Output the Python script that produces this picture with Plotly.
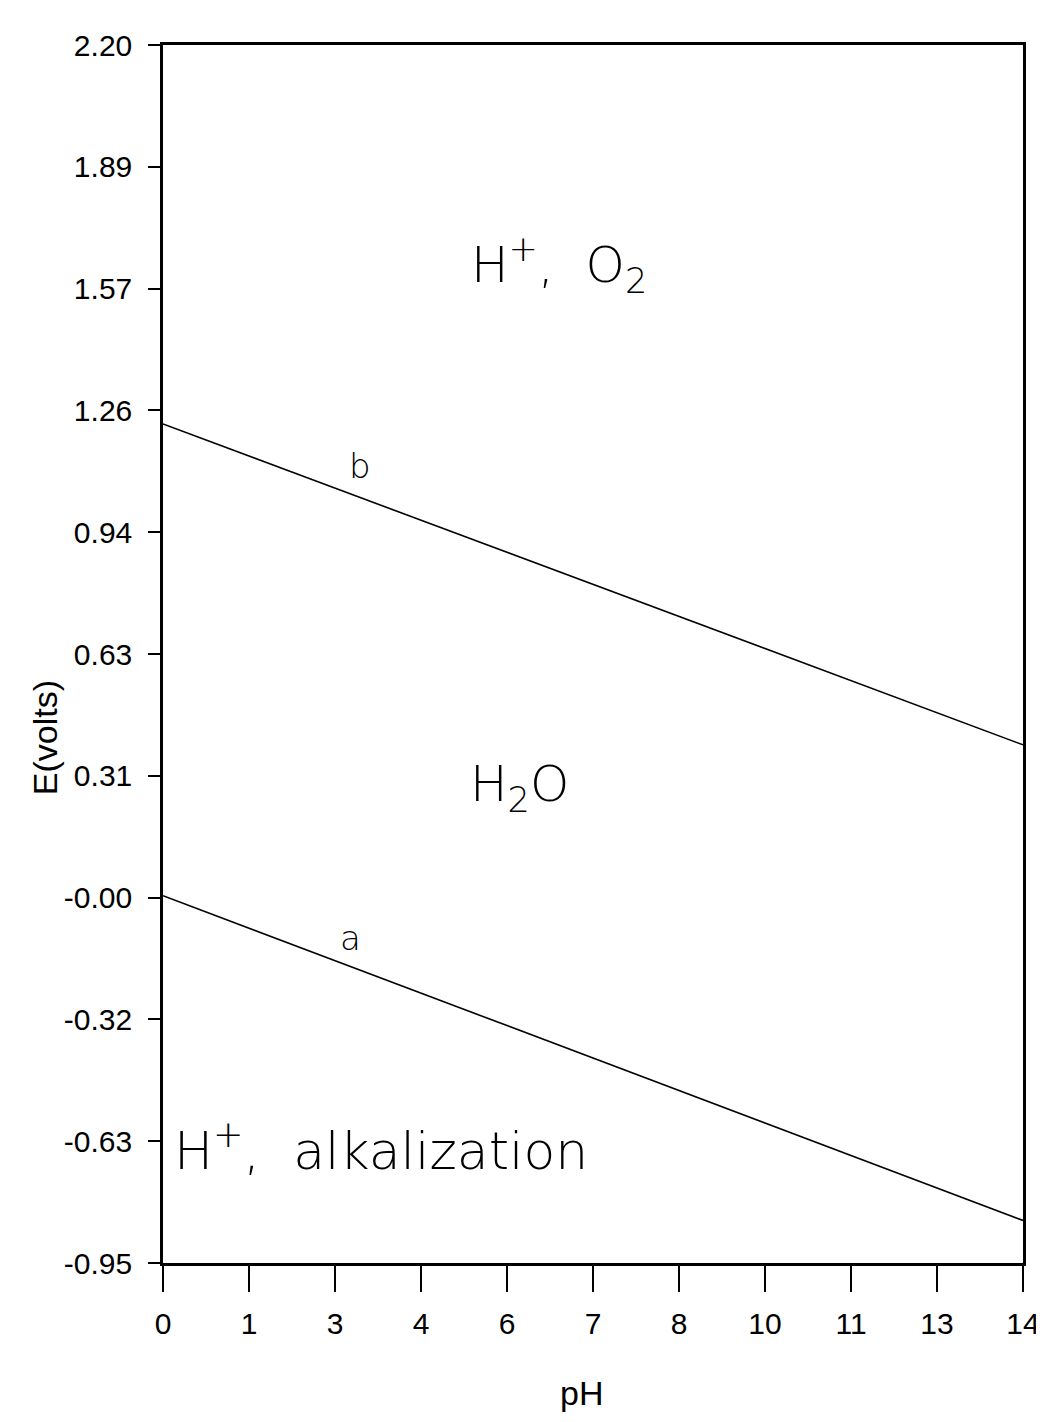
import plotly.graph_objects as go

# Data
ph = [0, 14]
line_a = [0.0, -0.84]
line_b = [1.22, 0.39]
x_tick_vals = [0, 1.4, 2.8, 4.2, 5.6, 7.0, 8.4, 9.8, 11.2, 12.6, 14.0]
x_tick_text = ["0", "1", "3", "4", "6", "7", "8", "10", "11", "13", "14"]
y_tick_vals = [-0.95, -0.635, -0.32, -0.005, 0.31, 0.625, 0.94, 1.255, 1.57, 1.885, 2.20]
y_tick_text = ["-0.95", "-0.63", "-0.32", "-0.00", "0.31", "0.63", "0.94", "1.26", "1.57", "1.89", "2.20"]

NARROW = "Liberation Sans Narrow, Liberation Sans, Arial, sans-serif"
WIDE = "DejaVu Sans, Verdana, sans-serif"

fig = go.Figure()
fig.add_trace(go.Scatter(x=ph, y=line_a, mode="lines", line=dict(color="black", width=1.6), showlegend=False))
fig.add_trace(go.Scatter(x=ph, y=line_b, mode="lines", line=dict(color="black", width=1.6), showlegend=False))

ann = [
    dict(x=6.45, y=1.63, xref="x", yref="y", text="H<sup>+</sup>,&nbsp; O<sub>2</sub>", font=dict(size=50, family=WIDE, weight=200)),
    dict(x=5.8, y=0.28, xref="x", yref="y", text="H<sub>2</sub>O", font=dict(size=50, family=WIDE, weight=200)),
    dict(x=3.55, y=-0.65, xref="x", yref="y", text="H<sup>+</sup>,&nbsp; alkalization", font=dict(size=52, family=WIDE, weight=200)),
    dict(x=3.21, y=1.11, xref="x", yref="y", text="b", font=dict(size=34, family=WIDE, weight=200)),
    dict(x=3.05, y=-0.11, xref="x", yref="y", text="a", font=dict(size=34, family=WIDE, weight=200)),
    dict(x=-0.137, y=0.431, xref="paper", yref="paper", text="E(volts)", textangle=-90, font=dict(size=34, family=NARROW)),
    dict(x=0.487, y=-0.107, xref="paper", yref="paper", text="pH", font=dict(size=34, family=NARROW)),
]
for a in ann:
    a.update(showarrow=False, xanchor="center", yanchor="middle")
    a["font"]["color"] = "black"
    fig.add_annotation(**a)

fig.update_xaxes(range=[0, 14], tickmode="array", tickvals=x_tick_vals, ticktext=x_tick_text,
                 ticks="outside", ticklen=26, tickwidth=2, tickcolor="black",
                 showline=True, linewidth=2.5, linecolor="black", mirror=True,
                 showgrid=False, zeroline=False, ticklabelstandoff=6,
                 tickfont=dict(size=30, family=NARROW, color="black"))
fig.update_yaxes(range=[-0.95, 2.20], tickmode="array", tickvals=y_tick_vals, ticktext=y_tick_text,
                 ticks="outside", ticklen=12, tickwidth=2, tickcolor="black",
                 showline=True, linewidth=2.5, linecolor="black", mirror=True,
                 showgrid=False, zeroline=False, ticklabelstandoff=10,
                 tickfont=dict(size=30, family=NARROW, color="black"))
fig.update_layout(width=1044, height=1422, margin=dict(l=155, r=18, t=37, b=167),
                  plot_bgcolor="white", paper_bgcolor="white")
fig.write_html("out.html")
